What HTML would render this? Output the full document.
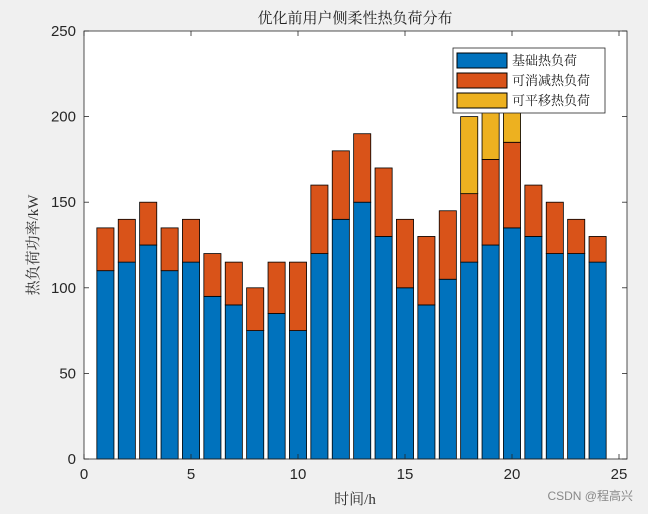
<!DOCTYPE html>
<html><head><meta charset="utf-8"><style>
body{margin:0;background:#f0f0f0;}
svg{display:block;font-family:"Liberation Sans","Noto Sans CJK SC",sans-serif;}
.cn{font-family:"Liberation Serif","Noto Serif CJK SC",serif;}
</style></head><body>
<svg id="chart" width="648" height="514">
<rect x="84" y="31" width="543" height="428" fill="#fff" stroke="none"/>
<g id="bars"></g>
<rect x="84" y="31" width="543" height="428" fill="none" stroke="#262626" stroke-width="0.8"/>
<g id="ticks"></g>
<text x="355" y="23" text-anchor="middle" font-size="15" fill="#222" class="cn">优化前用户侧柔性热负荷分布</text>
<text x="355" y="504" text-anchor="middle" font-size="15" fill="#333" class="cn">时间/h</text>
<text transform="translate(38,245) rotate(-90)" text-anchor="middle" font-size="15" fill="#333" class="cn">热负荷功率/kW</text>
<g>
<rect x="453" y="48" width="152" height="65" fill="#fff" stroke="#262626" stroke-width="0.8"/>
<g><rect x="457" y="53" width="50" height="15" fill="#0072bd" stroke="#000"/><text x="512" y="65" font-size="13" class="cn" fill="#222">基础热负荷</text></g>
<g><rect x="457" y="73" width="50" height="15" fill="#d95319" stroke="#000"/><text x="512" y="85" font-size="13" class="cn" fill="#222">可消减热负荷</text></g>
<g><rect x="457" y="93" width="50" height="15" fill="#edb120" stroke="#000"/><text x="512" y="105" font-size="13" class="cn" fill="#222">可平移热负荷</text></g>
</g>
<text x="633" y="500" text-anchor="end" font-size="12" fill="#888">CSDN @程高兴</text>
</svg>
<script>
const hours=[1,2,3,4,5,6,7,8,9,10,11,12,13,14,15,16,17,18,19,20,21,22,23,24];
const baseLoad=[110,115,125,110,115,95,90,75,85,75,120,140,150,130,100,90,105,115,125,135,130,120,120,115];
const reducibleLoad=[25,25,25,25,25,25,25,25,30,40,40,40,40,40,40,40,40,40,50,50,30,30,20,15];
const shiftableLoad=[0,0,0,0,0,0,0,0,0,0,0,0,0,0,0,0,0,45,55,35,0,0,0,0];
const xTicks=[0,5,10,15,20,25];
const yTicks=[0,50,100,150,200,250];
const NS='http://www.w3.org/2000/svg';
const X=v=>84+v*21.4, Y=v=>459-v*1.712;
const bars=document.getElementById('bars');
function bar(h,b,t,c,n){
 if(t<=0)return;
 const r=document.createElementNS(NS,'rect');
 r.setAttribute('x',X(h-0.4));r.setAttribute('width',21.4*0.8);
 r.setAttribute('y',Y(b+t));r.setAttribute('height',t*1.712);
 r.setAttribute('fill',c);r.setAttribute('stroke','#000');r.setAttribute('stroke-width','0.8');
 
 
 bars.appendChild(r);
}
hours.forEach((h,i)=>{
 bar(h,0,baseLoad[i],'#0072bd','bar-base-'+h);
 bar(h,baseLoad[i],reducibleLoad[i],'#d95319','bar-reducible-'+h);
 bar(h,baseLoad[i]+reducibleLoad[i],shiftableLoad[i],'#edb120','bar-shiftable-'+h);
});
const tk=document.getElementById('ticks');
function line(x1,y1,x2,y2){const l=document.createElementNS(NS,'line');l.setAttribute('x1',x1);l.setAttribute('y1',y1);l.setAttribute('x2',x2);l.setAttribute('y2',y2);l.setAttribute('stroke','#262626');l.setAttribute('stroke-width','0.8');tk.appendChild(l);}
function txt(x,y,s,a,n){const t=document.createElementNS(NS,'text');t.setAttribute('x',x);t.setAttribute('y',y);t.setAttribute('text-anchor',a);t.setAttribute('font-size','15');t.setAttribute('fill','#262626');t.textContent=s;


tk.appendChild(t);}
xTicks.forEach(v=>{line(X(v),459,X(v),454);line(X(v),31,X(v),36);txt(X(v),479,v,'middle','x-tick-label');});
yTicks.forEach(v=>{line(84,Y(v),89,Y(v));line(627,Y(v),622,Y(v));txt(76,Y(v)+5,v,'end','y-tick-label');});
</script>
</body></html>
